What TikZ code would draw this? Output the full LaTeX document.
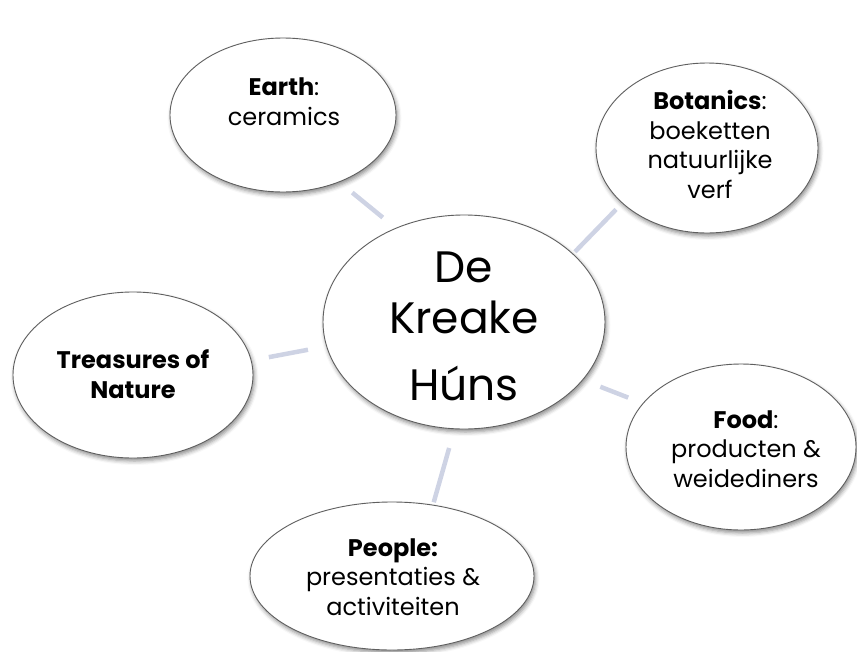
\documentclass[tikz,border=0pt]{standalone}
\usepackage{fontspec}
\setmainfont{Poppins}
\usetikzlibrary{shapes.geometric,shadows.blur}
\definecolor{conn}{RGB}{206,211,228}
\definecolor{rim}{RGB}{95,95,95}
\tikzset{
  bubble/.style={ellipse, draw=rim, line width=0.9pt, fill=white, inner sep=0pt, outer sep=0pt,
    blur shadow={shadow xshift=1.5pt, shadow yshift=-3pt, shadow blur radius=4pt, shadow opacity=45}},
  link/.style={draw=conn, line width=4.5pt},
  lbl/.style={align=center, font=\fontsize{24}{29.5}\selectfont, inner sep=0pt, anchor=base},
  biglbl/.style={align=center, font=\fontsize{44}{51}\selectfont, inner sep=0pt, anchor=base},
}
\begin{document}
\begin{tikzpicture}[x=1pt,y=-1pt]
\useasboundingbox (0,0) rectangle (857,651);
\node[bubble, minimum width=226pt, minimum height=154pt] (earth) at (283,115) {};
\node[bubble, minimum width=222pt, minimum height=170pt] (botanics) at (707,148) {};
\node[bubble, minimum width=240pt, minimum height=166pt] (treasures) at (133,375) {};
\node[bubble, minimum width=230pt, minimum height=166pt] (food) at (741,447) {};
\node[bubble, minimum width=284pt, minimum height=148pt] (people) at (392,576) {};
\node[bubble, minimum width=282pt, minimum height=214pt] (centre) at (464,322) {};
\draw[link, shorten <=17pt, shorten >=17pt] (centre.126.6) -- (earth.-50.1);
\draw[link, shorten <=3pt, shorten >=9pt] (centre.32) -- (botanics.213.7);
\draw[link, shorten <=19pt, shorten >=18pt] (centre.190.1) -- (treasures.7);
\draw[link, shorten <=19pt, shorten >=16pt] (centre.-26.1) -- (food.156.3);
\draw[link, shorten <=20pt, shorten >=3pt] (centre.-95.9) -- (people.60.6);
\node[lbl] (earthT) at (284,125) {\textbf{Earth}:\\ceramics};
\node[lbl] (botanicsT) at (710,198) {\textbf{Botanics}:\\boeketten\\natuurlijke\\verf};
\node[lbl] (treasuresT) at (133,398) {\textbf{Treasures of}\\\textbf{Nature}};
\node[lbl] (foodT) at (746,487) {\textbf{Food}:\\producten \&\\weidediners};
\node[lbl] (peopleT) at (393,615) {\textbf{People:}\\presentaties \&\\activiteiten};
\node[biglbl] (centreT) at (464,400) {De\\Kreake\\[16pt]Húns};
\end{tikzpicture}
\end{document}
